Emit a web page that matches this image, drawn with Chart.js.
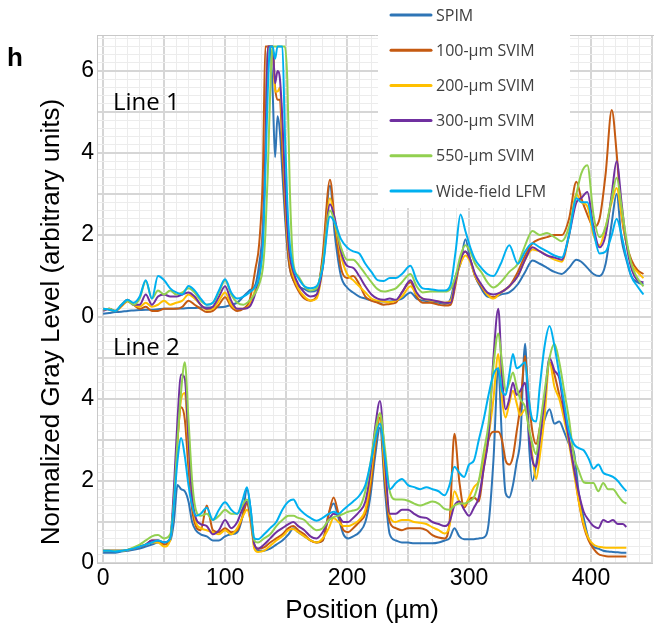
<!DOCTYPE html>
<html>
<head>
<meta charset="utf-8">
<script src="https://cdn.jsdelivr.net/npm/chart.js@4.4.1/dist/chart.umd.min.js"></script>
<style>
html,body{margin:0;padding:0;background:#ffffff;}
canvas{display:block;}
</style>
</head>
<body>
<canvas id="profiles" width="654" height="635"></canvas>
<script>
// Legend entries and their colours
const seriesNames = ['SPIM','100-µm SVIM','200-µm SVIM','300-µm SVIM','550-µm SVIM','Wide-field LFM'];
const seriesColours = ['#2e75b6','#c55a11','#ffc000','#7030a0','#92d050','#00b0f0'];

// Line 1 profiles (positions in µm, values in arbitrary units, clipped at 6.6)
const line1X = [0,5,10,15,20,25,30,35,40,45,50,55,60,65,70,75,80,85,90,95,100, 105,110,115,120,125, 128,131,133,135,137,139,141,143,145,147,149,151,153,156,160, 165,170,175,180,186,190,195,200,205,210,215,220,225,230,235,240,245, 252,257,262,268,275,280,285,289,293,297,301,305,310,315,320,326,333,340,346,352,358,364,370,376,382,388,392,397,402,407,412,417,421,425,429,433,438,443];
const line1Spim = [0.08,0.1,0.12,0.13,0.15,0.16,0.17,0.18,0.18,0.19,0.2,0.2,0.21,0.21,0.22,0.22,0.23,0.23,0.24,0.24,0.25, 0.3,0.35,0.5,0.65,0.8, 1.3,2.2,4.0,6.6,6.6,5.5,3.9,4.9,4.5,3.5,2.5,1.7,1.2,0.9,0.75, 0.68,0.62,0.65,1.4,3.2,2.0,1.0,0.72,0.6,0.5,0.45,0.4,0.38,0.38,0.38,0.4,0.45, 0.6,0.45,0.4,0.38,0.35,0.32,0.45,1.0,1.3,1.9,1.4,1.0,0.7,0.5,0.48,0.55,0.6,0.8,1.1,1.38,1.3,1.2,1.1,1.05,1.2,1.4,1.35,1.2,1.05,1.0,1.3,2.3,3.0,1.9,1.4,1.0,0.85,0.8];
const line1Svim100 = [0.2,0.18,0.15,0.28,0.42,0.3,0.2,0.25,0.15,0.15,0.2,0.2,0.2,0.25,0.4,0.3,0.2,0.12,0.15,0.3,0.48, 0.25,0.15,0.2,0.4,1.2, 1.8,3.5,6.6,6.6,6.6,6.6,5.6,5.3,5.3,4.0,2.8,1.8,1.2,0.9,0.65, 0.45,0.4,0.5,1.5,3.35,2.3,1.2,0.95,1.0,0.8,0.5,0.4,0.35,0.3,0.32,0.35,0.6, 0.85,0.5,0.35,0.35,0.3,0.28,0.3,0.8,1.4,1.6,1.4,1.0,0.75,0.55,0.48,0.6,0.75,1.1,1.5,1.8,1.9,1.95,2.0,2.0,2.4,3.3,2.9,2.5,2.2,2.4,3.5,5.05,4.0,2.5,1.8,1.4,1.15,1.05];
const line1Svim200 = [0.18,0.2,0.15,0.25,0.38,0.3,0.25,0.35,0.25,0.3,0.4,0.3,0.35,0.4,0.55,0.45,0.3,0.18,0.2,0.4,0.6, 0.3,0.2,0.2,0.3,0.7, 1.0,2.0,4.0,6.6,6.6,6.6,5.5,5.5,5.6,4.5,3.2,2.0,1.4,1.0,0.7, 0.5,0.4,0.45,1.2,2.9,2.3,1.5,1.05,0.9,0.75,0.6,0.45,0.4,0.38,0.36,0.4,0.5, 0.75,0.55,0.45,0.4,0.38,0.35,0.4,0.9,1.3,1.5,1.35,1.0,0.78,0.55,0.45,0.6,0.75,1.0,1.4,1.65,1.6,1.5,1.4,1.35,2.0,3.0,2.8,2.7,2.0,1.75,2.2,2.8,3.15,2.5,1.8,1.3,1.1,0.95];
const line1Svim300 = [0.15,0.2,0.15,0.28,0.4,0.3,0.3,0.55,0.3,0.5,0.55,0.5,0.5,0.55,0.6,0.5,0.3,0.2,0.25,0.5,0.75, 0.4,0.2,0.2,0.25,0.6, 1.0,2.0,4.0,6.6,6.6,6.6,5.7,6.0,5.8,4.8,3.4,2.2,1.5,1.1,0.8, 0.6,0.5,0.55,1.2,2.75,2.4,1.6,1.25,1.2,1.0,0.75,0.55,0.45,0.42,0.45,0.42,0.6, 0.9,0.6,0.45,0.42,0.38,0.35,0.35,0.9,1.4,1.6,1.4,1.05,0.8,0.6,0.55,0.6,0.75,1.0,1.4,1.7,1.6,1.5,1.45,1.4,2.0,2.8,2.9,3.05,2.2,1.7,2.0,3.0,3.8,2.8,1.8,1.2,0.9,0.85];
const line1Svim550 = [0.18,0.2,0.15,0.3,0.4,0.3,0.45,0.88,0.45,0.65,0.55,0.65,0.55,0.6,0.7,0.6,0.4,0.3,0.35,0.6,0.9, 0.55,0.35,0.3,0.4,0.6, 0.8,1.2,2.0,3.5,5.5,6.6,6.6,6.6,6.6,6.6,6.6,5.8,3.2,1.3,1.0, 0.75,0.65,0.7,1.3,2.6,2.3,1.7,1.4,1.4,1.25,1.05,0.85,0.68,0.62,0.65,0.7,0.85, 1.05,0.75,0.6,0.62,0.62,0.62,0.7,1.0,1.5,1.75,1.6,1.3,1.1,0.85,0.72,0.85,1.1,1.3,1.75,2.1,2.0,2.05,1.95,1.85,2.2,3.0,3.5,3.7,2.5,1.95,2.2,2.9,3.4,2.7,1.9,1.3,0.95,0.75];
const line1Lfm = [0.2,0.18,0.15,0.3,0.42,0.35,0.5,0.9,0.45,1.0,0.9,0.7,0.6,0.55,0.76,0.65,0.45,0.3,0.35,0.65,0.92, 0.6,0.45,0.5,0.6,0.75, 1.0,1.8,3.5,5.5,6.6,6.6,6.3,6.6,6.6,6.6,4.5,2.8,1.8,1.2,0.95, 0.75,0.7,0.75,1.2,2.45,2.3,1.9,1.7,1.6,1.55,1.3,1.1,0.9,0.88,0.95,0.95,1.05, 1.25,0.9,0.7,0.68,0.65,0.65,0.8,1.6,2.5,2.1,1.7,1.4,1.2,1.05,1.0,1.3,1.75,1.3,1.6,1.8,1.7,1.6,1.5,1.45,2.0,2.9,2.8,2.8,2.1,1.55,1.6,2.0,2.4,2.0,1.45,1.0,0.75,0.55];

// Line 2 profiles
const line2X = [0,5,10,15,20,25,30,35,40,45,50,55, 58,61,64,67,70,73,76, 80,85,90,95,100,105,110, 114,118,121,124,127, 132,137,142,147,152,156,160, 165,170,175,180,185, 189,193,197,201,205, 210,215,219,223,227,231,235, 240,245,250,255,260,265,270,275,280, 284,288,292,296,300,304,308,312,316,320,324, 327,330,333,336,339,342,346,349,352,355,358,362,366,370,374,378,382,386,390,394,398,402,406,410,414,418,422,426,429];
const line2Spim = [0.25,0.25,0.25,0.28,0.3,0.32,0.35,0.4,0.45,0.5,0.5,0.55, 1.0,1.9,1.8,1.75,1.5,1.0,0.8, 0.7,0.65,0.55,0.55,0.65,0.7,0.75, 1.1,1.8,1.3,0.4,0.3, 0.3,0.35,0.45,0.55,0.7,0.85,0.75, 0.65,0.55,0.5,0.55,1.2, 1.45,1.1,0.7,0.6,0.65, 0.75,1.0,1.6,2.6,3.3,1.8,0.7, 0.55,0.5,0.5,0.48,0.48,0.48,0.48,0.5,0.55, 0.6,0.85,0.65,0.58,0.58,0.58,0.6,0.62,0.95,2.5,4.75, 3.0,1.7,1.6,1.9,2.45,3.0,5.35,3.0,2.0,2.4,3.0,3.5,3.75,3.4,3.45,3.2,2.9,2.7,1.7,1.1,0.6,0.4,0.35,0.3,0.28,0.27,0.26,0.25,0.25];
const line2Svim100 = [0.3,0.3,0.3,0.3,0.32,0.35,0.4,0.45,0.55,0.55,0.45,0.6, 1.5,3.0,3.8,3.5,2.3,1.3,0.9, 0.8,1.4,0.8,0.75,0.85,0.75,0.8, 1.1,1.45,1.0,0.45,0.35, 0.38,0.5,0.6,0.7,0.85,0.9,0.8, 0.7,0.55,0.5,0.55,1.2, 1.6,1.2,0.8,0.75,0.85, 1.0,1.2,1.8,2.8,3.55,2.0,1.0, 0.85,0.8,0.85,0.85,0.85,0.8,0.68,0.62,0.6, 1.0,3.15,2.0,1.35,1.55,1.6,1.5,2.3,3.0,3.2,3.2, 3.0,2.5,2.4,2.6,3.2,3.8,5.05,4.0,3.2,2.9,3.3,4.0,4.9,4.6,4.1,3.6,3.0,2.3,1.5,0.9,0.55,0.35,0.22,0.18,0.16,0.16,0.16,0.16,0.16];
const line2Svim200 = [0.3,0.3,0.3,0.3,0.32,0.35,0.4,0.45,0.5,0.5,0.4,0.55, 1.5,3.0,4.0,4.15,2.8,1.6,1.0, 0.85,0.8,0.75,0.7,0.8,0.7,0.85, 1.1,1.3,1.0,0.35,0.27, 0.3,0.42,0.55,0.65,0.8,0.83,0.75, 0.65,0.55,0.5,0.6,0.85, 1.1,1.0,0.9,0.9,0.95, 1.05,1.3,2.0,3.0,3.65,2.2,1.15, 1.0,1.05,1.05,1.0,0.98,0.95,0.87,0.8,0.72, 0.9,1.75,1.5,1.4,1.6,1.85,2.0,2.5,3.1,4.0,5.1, 4.0,3.55,3.9,4.2,3.9,3.6,3.75,3.3,2.6,2.05,2.6,3.6,4.9,4.3,4.0,3.5,2.9,2.2,1.5,0.95,0.6,0.45,0.4,0.38,0.37,0.37,0.37,0.37,0.37];
const line2Svim300 = [0.3,0.3,0.3,0.3,0.32,0.35,0.4,0.45,0.55,0.55,0.5,0.6, 1.8,3.5,4.6,4.5,3.0,1.6,1.1, 0.95,0.9,0.7,0.8,1.05,0.85,1.0, 1.3,1.5,1.1,0.45,0.35, 0.45,0.6,0.75,0.85,0.95,1.0,0.9, 0.8,0.65,0.6,0.75,1.05, 1.2,1.15,1.0,1.0,1.1, 1.25,1.5,2.2,3.3,3.95,2.5,1.2, 1.2,1.3,1.3,1.2,1.12,1.1,1.0,0.95,0.9, 1.0,1.4,1.5,1.3,1.15,1.35,1.6,2.3,3.1,5.0,6.2, 4.6,3.75,4.0,4.4,4.1,4.2,4.4,3.2,2.5,2.35,3.0,4.0,5.0,4.7,4.5,3.7,3.0,2.3,1.7,1.25,1.05,0.9,0.85,1.05,1.0,1.05,0.95,0.95,0.88];
const line2Svim550 = [0.3,0.3,0.3,0.3,0.32,0.38,0.45,0.55,0.65,0.68,0.6,0.7, 1.5,3.0,4.2,4.9,3.5,2.0,1.3, 1.15,1.2,1.05,1.15,1.3,1.2,1.2, 1.4,1.55,1.2,0.55,0.5, 0.6,0.7,0.9,1.05,1.15,1.15,1.1, 1.05,0.9,0.8,0.85,1.05, 1.12,1.15,1.2,1.25,1.28, 1.35,1.75,2.4,3.2,3.65,2.8,1.75, 1.55,1.55,1.52,1.45,1.4,1.45,1.5,1.45,1.32, 1.3,1.4,1.45,1.45,1.5,1.6,2.0,2.7,3.4,4.8,5.6, 4.9,4.2,4.4,4.65,4.3,4.0,3.8,3.3,2.9,2.65,3.3,4.2,5.0,5.35,4.9,4.2,3.5,2.6,2.25,1.97,1.95,1.95,1.75,1.95,1.8,1.8,1.65,1.5,1.45];
const line2Lfm = [0.3,0.3,0.28,0.3,0.32,0.35,0.4,0.45,0.5,0.55,0.5,0.6, 1.4,2.5,3.05,2.6,1.9,1.4,1.15, 1.2,1.35,1.05,1.3,1.48,1.3,1.2, 1.5,1.85,1.3,0.6,0.58, 0.7,0.85,1.0,1.3,1.5,1.55,1.35, 1.2,1.1,1.03,1.1,1.2, 1.25,1.2,1.3,1.4,1.5, 1.64,1.9,2.4,3.0,3.4,2.6,1.8, 1.95,2.05,1.9,1.85,1.8,1.85,1.8,1.75,1.65, 1.9,2.35,2.2,2.1,2.4,2.5,3.0,3.5,4.1,4.6,4.75, 4.2,4.1,4.6,5.1,4.75,4.8,4.9,4.0,3.5,3.45,4.3,5.3,5.78,5.3,4.6,3.9,3.2,2.9,2.8,2.75,2.55,2.3,2.4,2.2,2.15,2.1,2.0,1.85,1.75];

// Line 1 sits 6 units above Line 2 on one shared value axis
const LINE1_OFFSET = 6;

const line1Series = [line1Spim,line1Svim100,line1Svim200,line1Svim300,line1Svim550,line1Lfm];
const line2Series = [line2Spim,line2Svim100,line2Svim200,line2Svim300,line2Svim550,line2Lfm];

function toPoints(xs,ys,shift){
	if(xs.length!==ys.length) throw new Error('length mismatch '+xs.length+' vs '+ys.length);
	return xs.map(function(x,i){ return {'x':x,'y':ys[i]+shift}; });
}

const datasets = [];
function addPanel(xs,series,shift){
	for(let s = 0; s < series.length; s++){
		datasets.push({
			'label': seriesNames[s],
			'data': toPoints(xs,series[s],shift),
			'borderColor': seriesColours[s],
			'borderWidth': 2,
			'pointRadius': 0,
			'fill': false,
			'cubicInterpolationMode': 'monotone',
			'order': series.length-s
		});
	}
}
addPanel(line1X,line1Series,LINE1_OFFSET);
addPanel(line2X,line2Series,0);

function onStep(v,step){
	const k = Math.round(v/step);
	return Math.abs(v/step-k) < 0.01 ? k : null;
}

// Frame top, panel labels, axis titles and the boxed legend
const annotate = {
	'id': 'annotate',
	'afterDraw': function(chart){
		const ctx = chart.ctx, area = chart.chartArea;
		ctx.save();
		ctx.strokeStyle = '#c8c8c8';
		ctx.lineWidth = 1;
		ctx.beginPath();
		ctx.moveTo(area.left,area.top+0.5);
		ctx.lineTo(chart.width,area.top+0.5);
		ctx.stroke();

		ctx.fillStyle = '#000000';
		ctx.textAlign = 'left';
		ctx.textBaseline = 'alphabetic';
		ctx.font = 'bold 26px "Liberation Sans", Arial, sans-serif';
		ctx.fillText('h',7,66);
		ctx.font = '24px "Open Sans", sans-serif';
		ctx.fillText('Line 1',113,110);
		ctx.fillText('Line 2',113,355);

		ctx.textAlign = 'center';
		ctx.textBaseline = 'middle';
		ctx.font = '26px "Liberation Sans", Arial, sans-serif';
		ctx.fillText('Position (µm)',362,611);
		ctx.translate(52,322);
		ctx.rotate(-Math.PI/2);
		ctx.fillText('Normalized Gray Level (arbitrary units)',0,0);
		ctx.restore();

		// Legend box overlapping the top of the plot
		ctx.save();
		ctx.fillStyle = '#ffffff';
		ctx.fillRect(378,0,192,208);
		ctx.font = '16px "Open Sans", sans-serif';
		ctx.textAlign = 'left';
		ctx.textBaseline = 'middle';
		for(let i = 0; i < seriesNames.length; i++){
			const ds = chart.data.datasets[i];
			const y = 15+i*35.2;
			ctx.strokeStyle = ds.borderColor;
			ctx.lineWidth = 3;
			ctx.lineCap = 'round';
			ctx.beginPath();
			ctx.moveTo(391,y);
			ctx.lineTo(431,y);
			ctx.stroke();
			ctx.fillStyle = '#404040';
			ctx.fillText(ds.label,436,y+1);
		}
		ctx.restore();
	}
};

new Chart(document.getElementById('profiles'),{
	'type': 'line',
	'data': {'datasets': datasets},
	'plugins': [annotate],
	'options': {
		'responsive': false,
		'animation': false,
		'devicePixelRatio': 1,
		'layout': {'padding': {'left':0,'top':35,'right':2,'bottom':0}},
		'plugins': {'legend': {'display': false},'tooltip': {'enabled': false}},
		'scales': {
			'x': {
				'type': 'linear',
				'min': -5,
				'max': 450,
				'afterFit': function(scale){ scale.height = 72; },
				'border': {'color':'#c8c8c8','width':1},
				'grid': {
					'drawTicks': false,
					'color': function(c){ const k = onStep(c.tick.value,10); if(k===null) return 'rgba(0,0,0,0)'; return k%5===0 ? '#d6d6d6' : '#ececec'; },
					'lineWidth': function(c){ const k = onStep(c.tick.value,10); return (k!==null && k%5===0) ? 2 : 1; }
				},
				'ticks': {
					'stepSize': 10,
					'includeBounds': false,
					'autoSkip': false,
					'maxRotation': 0,
					'padding': 2,
					'color': '#000000',
					'font': {'family':'"Liberation Sans", Arial, sans-serif','size':23},
					'callback': function(v){ const k = onStep(v,100); return (k!==null && k>=0) ? String(k*100) : ''; }
				}
			},
			'y': {
				'type': 'linear',
				'min': 0,
				'max': 12.88,
				'afterFit': function(scale){ scale.width = 97; },
				'border': {'color':'#c8c8c8','width':1},
				'grid': {
					'drawTicks': false,
					'color': function(c){ const k = onStep(c.tick.value,0.2); if(k===null) return 'rgba(0,0,0,0)'; return k%5===0 ? '#d6d6d6' : '#ececec'; },
					'lineWidth': function(c){ const k = onStep(c.tick.value,0.2); return (k!==null && k%5===0) ? 2 : 1; }
				},
				'ticks': {
					'stepSize': 0.2,
					'includeBounds': false,
					'autoSkip': false,
					'padding': 3,
					'color': '#000000',
					'font': {'family':'"Liberation Sans", Arial, sans-serif','size':23},
					'callback': function(v){
						const k = onStep(v,2);
						if(k===null) return '';
						const n = k*2;
						if(n>=0 && n<=4) return String(n);
						if(n>=LINE1_OFFSET) return String(n-LINE1_OFFSET);
						return '';
					}
				}
			}
		}
	}
});
</script>
</body>
</html>
